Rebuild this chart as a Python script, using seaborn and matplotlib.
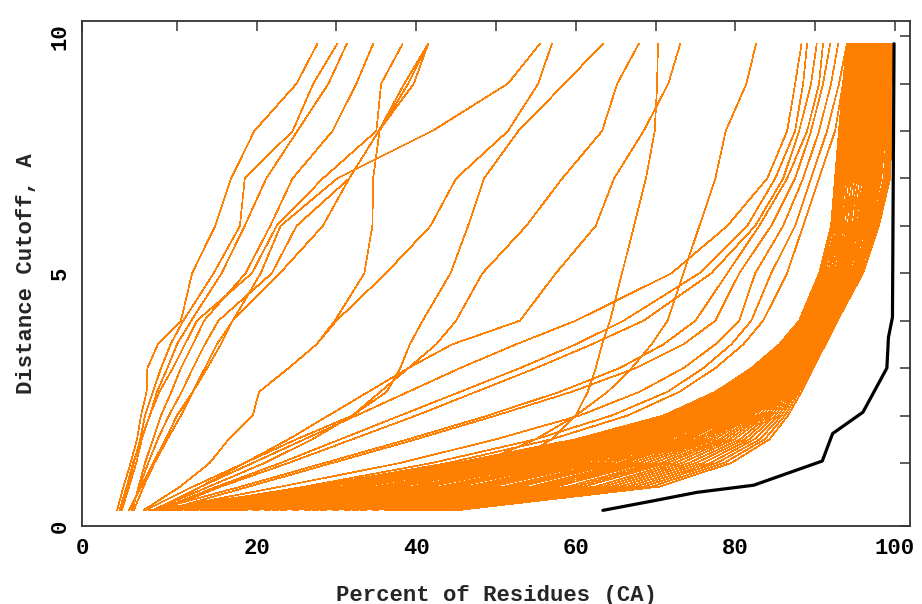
import numpy as np
import pandas as pd
import seaborn as sns
import matplotlib
matplotlib.use("Agg")
import matplotlib.pyplot as plt

# distance cutoffs (A) at which every orange curve is sampled
cutoffs = [0, 0.5, 1, 1.5, 2, 2.5, 3, 3.5, 4, 5, 6, 7, 8, 9, 9.84]

# percent of residues at each cutoff, one list per model
steep_curves = [
    [2.5, 3.3, 4.2, 5.0, 5.5, 6.2, 6.3, 7.6, 10.5, 11.9, 14.8, 16.8, 19.7, 25.0, 27.6],
    [3.0, 3.8, 4.6, 5.4, 6.0, 7.0, 8.0, 9.2, 10.8, 14.6, 17.9, 18.5, 24.5, 27.1, 30.1],
    [3.1, 4.0, 4.9, 5.6, 6.6, 7.5, 8.8, 10.0, 11.8, 15.6, 18.5, 21.2, 25.1, 29.0, 31.3],
    [4.4, 5.2, 6.0, 7.0, 8.0, 9.3, 10.5, 12.0, 13.4, 18.6, 21.7, 24.5, 29.5, 32.5, 34.6],
    [2.8, 3.7, 4.5, 5.5, 6.6, 7.8, 9.5, 11.0, 12.5, 19.4, 22.5, 28.3, 35.0, 35.6, 38.3],
    [4.3, 5.3, 6.4, 7.6, 9.0, 10.6, 12.0, 13.5, 15.2, 21.9, 25.0, 31.6, 35.3, 38.5, 41.5],
    [4.0, 5.5, 7.0, 8.6, 10.0, 12.0, 13.5, 15.0, 17.0, 22.9, 28.3, 31.6, 35.3, 39.7, 41.5],
    [5.8, 10.4, 14.1, 16.5, 19.5, 20.3, 24.0, 27.5, 29.8, 33.5, 34.5, 34.6, 35.4, 39.0, 41.5],
]

mid_curves = [
    [4.6, 5.8, 7.2, 8.8, 10.5, 12.0, 13.8, 15.5, 17.0, 20.5, 23.0, 30.1, 42.0, 51.5, 55.5],
    [5.8, 10.4, 14.1, 16.5, 19.5, 20.3, 24.0, 27.5, 30.0, 36.2, 41.8, 45.0, 51.5, 55.3, 57.0],
    [6.0, 12.0, 18.5, 25.0, 32.0, 36.3, 38.0, 39.2, 40.8, 44.3, 46.5, 48.5, 52.8, 58.6, 63.4],
    [7.0, 14.0, 21.0, 27.0, 32.0, 35.5, 39.0, 42.5, 45.0, 48.3, 53.8, 58.3, 63.3, 65.2, 67.9],
    [38.0, 46.0, 52.0, 57.0, 60.0, 61.5, 62.5, 63.3, 64.3, 65.8, 67.3, 68.8, 69.9, 70.2, 70.3],
    [7.5, 13.0, 18.5, 24.0, 29.0, 34.0, 39.0, 44.5, 53.0, 57.5, 62.5, 64.8, 68.5, 71.6, 73.1],
    [30.0, 40.0, 48.0, 55.0, 60.0, 64.0, 67.0, 69.5, 71.5, 73.5, 75.5, 77.5, 78.8, 81.4, 82.6],
]

fan_curves = [
    [7.0, 13.0, 19.5, 26.0, 32.5, 39.0, 45.5, 52.5, 60.0, 72.0, 79.0, 84.0, 86.5, 87.5, 88.3],
    [7.5, 15.0, 23.0, 30.5, 38.0, 45.5, 53.0, 60.0, 66.0, 75.5, 81.5, 85.0, 87.5, 88.5, 89.0],
    [8.0, 15.5, 24.0, 32.0, 40.0, 47.5, 55.0, 62.0, 68.5, 77.0, 82.5, 86.0, 88.0, 89.5, 90.2],
    [7.0, 18.0, 28.5, 39.0, 49.0, 58.0, 65.5, 71.0, 75.0, 79.0, 83.0, 86.5, 89.0, 90.5, 91.0],
    [8.5, 19.0, 29.5, 40.0, 50.0, 59.5, 67.5, 73.5, 77.5, 80.5, 84.5, 87.5, 89.5, 91.0, 91.9],
    [7.5, 23.0, 38.0, 50.0, 60.5, 68.0, 73.5, 77.5, 80.5, 82.5, 86.0, 88.5, 90.5, 92.0, 92.9],
    [8.0, 26.0, 42.0, 55.0, 64.5, 71.5, 76.0, 79.5, 82.0, 84.5, 87.5, 89.5, 91.5, 93.0, 94.0],
    [9.0, 27.0, 44.0, 57.0, 66.5, 73.0, 77.5, 81.0, 83.5, 86.5, 88.5, 90.5, 92.5, 93.5, 94.4],
]

# dense band of good models: one row per cutoff, one column per model
band_by_cutoff = [
    [6.5, 7, 7.5, 8, 8.5, 9, 9.5, 10, 11, 11.5, 12, 13, 14, 15, 16, 17, 18, 19.5, 21, 22,
     23, 24.5, 26, 27, 28, 29.5, 31, 32, 33, 34.5, 36, 37, 38, 39, 40, 41, 42, 43, 44, 45],
    [27, 28, 29, 30.5, 31.5, 32.5, 33.5, 35, 36, 37, 38, 39.5, 40.5, 41.5, 43, 44, 45, 46.5, 47.5, 48.5,
     49.5, 51, 52, 53, 54.5, 55.5, 56.5, 57.5, 59, 60, 61, 62.5, 63.5, 64.5, 65.5, 66.5, 67.5, 68.5, 69.5, 70.5],
    [45.0, 45.9, 46.8, 47.7, 48.5, 49.4, 50.3, 51.2, 52.1, 53.0, 53.9, 54.7, 55.6, 56.5, 57.4, 58.3, 59.2, 60.0, 60.9, 61.8,
     62.7, 63.6, 64.5, 65.4, 66.2, 67.1, 68.0, 68.9, 69.8, 70.7, 71.5, 72.4, 73.3, 74.2, 75.1, 76.0, 76.9, 77.7, 78.6, 79.5],
    [60.0, 60.6, 61.2, 61.9, 62.5, 63.1, 63.7, 64.4, 65.0, 65.6, 66.2, 66.9, 67.5, 68.1, 68.7, 69.3, 70.0, 70.6, 71.2, 71.8,
     72.5, 73.1, 73.7, 74.3, 75.0, 75.6, 76.2, 76.8, 77.4, 78.1, 78.7, 79.3, 79.9, 80.6, 81.2, 81.8, 82.4, 83.1, 83.7, 84.3],
    [71.0, 71.4, 71.8, 72.2, 72.6, 73.0, 73.4, 73.8, 74.2, 74.6, 75.0, 75.4, 75.8, 76.2, 76.6, 77.0, 77.4, 77.8, 78.2, 78.6,
     79.0, 79.4, 79.8, 80.2, 80.6, 81.0, 81.4, 81.8, 82.2, 82.6, 83.0, 83.4, 83.8, 84.2, 84.6, 85.0, 85.4, 85.8, 86.2, 86.6],
    [77.5, 77.8, 78.1, 78.3, 78.6, 78.9, 79.2, 79.4, 79.7, 80.0, 80.3, 80.5, 80.8, 81.1, 81.4, 81.7, 81.9, 82.2, 82.5, 82.8,
     83.0, 83.3, 83.6, 83.9, 84.1, 84.4, 84.7, 85.0, 85.3, 85.5, 85.8, 86.1, 86.4, 86.6, 86.9, 87.2, 87.5, 87.7, 88.0, 88.3],
    [82.0, 82.2, 82.4, 82.6, 82.8, 83.0, 83.2, 83.4, 83.6, 83.8, 84.0, 84.2, 84.4, 84.6, 84.8, 85.0, 85.2, 85.4, 85.6, 85.8,
     86.0, 86.2, 86.4, 86.6, 86.8, 87.0, 87.2, 87.4, 87.6, 87.8, 88.0, 88.2, 88.4, 88.6, 88.8, 89.0, 89.2, 89.4, 89.6, 89.8],
    [85.5, 85.6, 85.8, 85.9, 86.1, 86.2, 86.4, 86.5, 86.7, 86.8, 87.0, 87.1, 87.3, 87.4, 87.6, 87.7, 87.9, 88.0, 88.2, 88.3,
     88.5, 88.6, 88.8, 88.9, 89.1, 89.2, 89.4, 89.5, 89.7, 89.8, 90.0, 90.1, 90.3, 90.4, 90.6, 90.7, 90.9, 91.0, 91.2, 91.3],
    [88.0, 88.1, 88.2, 88.4, 88.5, 88.6, 88.7, 88.9, 89.0, 89.1, 89.2, 89.4, 89.5, 89.6, 89.7, 89.8, 90.0, 90.1, 90.2, 90.3,
     90.5, 90.6, 90.7, 90.8, 91.0, 91.1, 91.2, 91.3, 91.4, 91.6, 91.7, 91.8, 91.9, 92.1, 92.2, 92.3, 92.4, 92.6, 92.7, 92.8],
    [90.5, 90.8, 90.6, 91.0, 91.2, 91.1, 91.5, 91.4, 91.8, 91.7, 92.0, 92.2, 92.1, 92.5, 92.4, 92.7, 92.9, 92.8, 93.2, 93.1,
     93.4, 93.6, 93.5, 93.9, 93.8, 94.1, 94.3, 94.2, 94.6, 94.5, 94.8, 95.0, 94.9, 95.3, 95.2, 95.5, 95.7, 95.6, 95.9, 96.0],
    [92.0, 92.3, 92.1, 92.6, 92.5, 92.9, 92.8, 93.2, 93.0, 93.4, 93.6, 93.5, 93.9, 93.8, 94.2, 94.1, 94.5, 94.3, 94.8, 94.7,
     95.1, 94.9, 95.3, 95.5, 95.4, 95.8, 95.7, 96.1, 96.0, 96.4, 96.2, 96.7, 96.6, 97.0, 96.8, 97.2, 97.4, 97.6, 97.8, 98.0],
    [92.5, 92.8, 92.6, 93.1, 93.0, 93.4, 93.3, 93.8, 93.6, 94.1, 94.0, 94.5, 94.3, 94.8, 94.7, 95.2, 95.0, 95.5, 95.4, 95.9,
     95.7, 96.2, 96.1, 96.6, 96.4, 96.9, 96.8, 97.3, 97.1, 97.6, 97.5, 98.0, 97.8, 98.3, 98.2, 98.6, 98.8, 99.0, 99.2, 99.4],
    [93.0, 93.3, 93.1, 93.6, 93.5, 93.9, 93.8, 94.3, 94.1, 94.6, 94.5, 95.0, 94.8, 95.3, 95.2, 95.7, 95.5, 96.0, 95.9, 96.4,
     96.2, 96.7, 96.6, 97.1, 96.9, 97.4, 97.3, 97.8, 97.6, 98.1, 98.0, 98.5, 98.3, 98.8, 98.7, 99.0, 99.1, 99.3, 99.5, 99.6],
    [93.5, 93.8, 93.6, 94.1, 94.0, 94.4, 94.3, 94.8, 94.6, 95.1, 95.0, 95.5, 95.3, 95.8, 95.7, 96.2, 96.0, 96.5, 96.4, 96.9,
     96.7, 97.2, 97.1, 97.6, 97.4, 97.9, 97.8, 98.3, 98.1, 98.6, 98.5, 98.9, 98.8, 99.2, 99.1, 99.3, 99.4, 99.5, 99.6, 99.6],
    [94.0, 94.3, 94.1, 94.6, 94.5, 94.9, 94.8, 95.3, 95.1, 95.6, 95.5, 96.0, 95.8, 96.3, 96.2, 96.7, 96.5, 97.0, 96.9, 97.4,
     97.2, 97.7, 97.6, 98.1, 97.9, 98.4, 98.3, 98.8, 98.6, 99.1, 99.0, 99.3, 99.2, 99.5, 99.4, 99.6, 99.5, 99.7, 99.6, 99.7],
]

# reference (black) curve
ref_pct = [63.4, 69.7, 75.2, 82.3, 90.9, 92.2, 96.0, 99.0, 99.2, 99.7, 99.9]
ref_cutoff = [0, 0.2, 0.38, 0.53, 1.04, 1.62, 2.07, 3.0, 3.65, 4.07, 9.84]

x_ticks = [-1.9, 10, 20, 30, 40, 50, 60, 70, 80, 90, 100]
x_labels = ["0", "", "20", "", "40", "", "60", "", "80", "", "100"]
y_ticks = [-0.33, 1, 2, 3, 4, 5, 6, 7, 8, 9, 10]
y_labels = ["0", "", "", "", "", "5", "", "", "", "", "10"]

all_curves = steep_curves + mid_curves + fan_curves + [list(c) for c in np.array(band_by_cutoff).T]
rows = []
for n, xs in enumerate(all_curves):
    for x, y in zip(xs, cutoffs):
        rows.append({"curve": n, "pct": x, "cutoff": y})
df = pd.DataFrame(rows)
ref_df = pd.DataFrame({"pct": ref_pct, "cutoff": ref_cutoff})

sns.set_theme(style="white")
plt.rcParams['font.family'] = ['Liberation Mono', 'DejaVu Sans Mono']
plt.rcParams['font.weight'] = 'bold'

fig = plt.figure(figsize=(9.22, 6.04), dpi=100)
ax = fig.add_axes([82 / 922, 78 / 604, 828 / 922, 505 / 604])

sns.lineplot(data=df, x="pct", y="cutoff", units="curve", estimator=None, sort=False,
             color="#ff8000", linewidth=0.5, antialiased=False, legend=False, ax=ax)
sns.lineplot(data=ref_df, x="pct", y="cutoff", estimator=None, sort=False,
             color="black", linewidth=2.3, legend=False, ax=ax)

ax.set_xlim(-1.9, 101.9)
ax.set_ylim(-0.33, 10.32)
ax.set_xticks(x_ticks)
ax.set_xticklabels(x_labels)
ax.set_yticks(y_ticks)
ax.set_yticklabels(y_labels, rotation=90, va="center")
ax.tick_params(direction="in", length=7, width=1.1, top=True, right=True,
               labelsize=16, colors="#333333", labelcolor="black", pad=9)
ax.tick_params(axis="y", pad=8)
for s in ax.spines.values():
    s.set_color("#333333")
    s.set_linewidth(1.3)

ax.set_xlabel("Percent of Residues (CA)", fontsize=16, fontweight="bold", labelpad=18)
ax.set_ylabel("Distance Cutoff, A", fontsize=16, fontweight="bold", labelpad=9)

fig.savefig("out.png", dpi=100)
